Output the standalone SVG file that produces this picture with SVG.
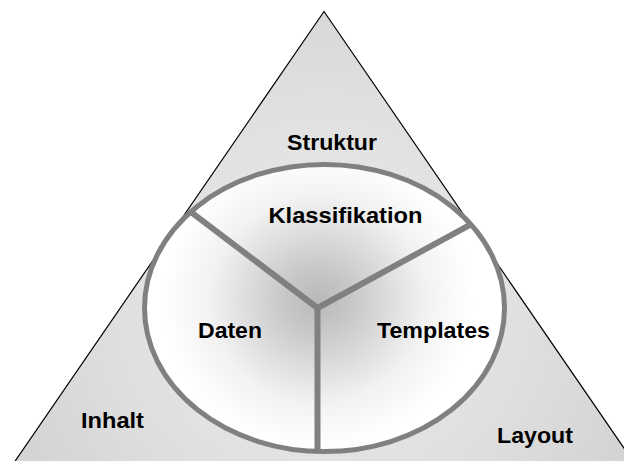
<svg xmlns="http://www.w3.org/2000/svg" width="624" height="461" viewBox="0 0 624 461">
  <defs>
    <radialGradient id="triFill" gradientUnits="userSpaceOnUse" cx="324" cy="300" r="330">
      <stop offset="0" stop-color="#ececec"/>
      <stop offset="0.6" stop-color="#e0e0e0"/>
      <stop offset="1" stop-color="#d4d4d4"/>
    </radialGradient>
    <radialGradient id="discFill" gradientUnits="userSpaceOnUse" cx="318" cy="300" r="155" gradientTransform="translate(318 300) scale(1 0.95) translate(-318 -300)">
      <stop offset="0" stop-color="#b9b9b9"/>
      <stop offset="0.2" stop-color="#c6c6c6"/>
      <stop offset="0.7" stop-color="#f2f2f2"/>
      <stop offset="1" stop-color="#ffffff"/>
    </radialGradient>
    <style>
      .tri { fill: url(#triFill); stroke: #000000; stroke-width: 1.2; stroke-linejoin: miter; }
      .disc { fill: url(#discFill); stroke: #808080; stroke-width: 5; }
      .spoke { stroke: #808080; stroke-width: 6; fill: none; stroke-linecap: butt; }
      .label { font-family: "Liberation Sans", Arial, sans-serif; font-weight: bold; font-size: 21.5px; fill: #000000; }
    </style>
  </defs>

  <!-- outer triangle -->
  <polygon class="tri" points="324,11.5 9,470 639,470"/>

  <!-- inner disc -->
  <ellipse class="disc" cx="324.5" cy="308" rx="180" ry="143.6"/>

  <!-- dividing spokes -->
  <g id="connectors">
    <line class="spoke" x1="317.5" y1="308" x2="190.7" y2="211.9"/>
    <line class="spoke" x1="317.5" y1="308" x2="470.9" y2="224.3"/>
    <line class="spoke" x1="317.5" y1="306" x2="317.5" y2="451"/>
  </g>

  <!-- triangle corners -->
  <g id="struktur">
    <text class="label" x="287" y="150" textLength="90" lengthAdjust="spacingAndGlyphs">Struktur</text>
  </g>
  <g id="inhalt">
    <text class="label" x="81" y="428" textLength="63" lengthAdjust="spacingAndGlyphs">Inhalt</text>
  </g>
  <g id="layout">
    <text class="label" x="497" y="443" textLength="76" lengthAdjust="spacingAndGlyphs">Layout</text>
  </g>

  <!-- disc sectors -->
  <g id="klassifikation">
    <text class="label" x="268.5" y="222.5" textLength="154" lengthAdjust="spacingAndGlyphs">Klassifikation</text>
  </g>
  <g id="daten">
    <text class="label" x="198" y="338" textLength="64" lengthAdjust="spacingAndGlyphs">Daten</text>
  </g>
  <g id="templates">
    <text class="label" x="377" y="338" textLength="113" lengthAdjust="spacingAndGlyphs">Templates</text>
  </g>
</svg>
